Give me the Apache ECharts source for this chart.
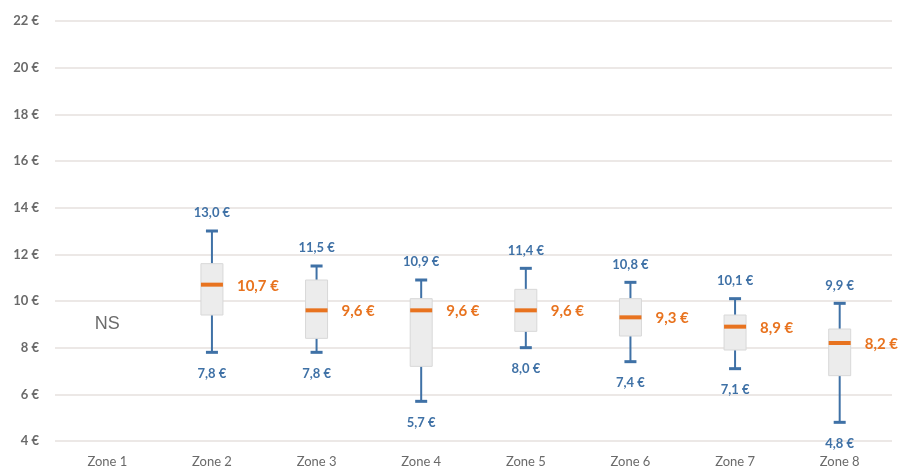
<!DOCTYPE html>
<html><head><meta charset="utf-8">
<script src="https://cdn.jsdelivr.net/npm/echarts@6/dist/echarts.min.js"></script>
<style>html,body{margin:0;padding:0;background:#fff}#c{width:899px;height:468px}</style>
</head><body><div id="c"></div>
<script>
const categories = ['Zone 1','Zone 2','Zone 3','Zone 4','Zone 5','Zone 6','Zone 7','Zone 8'];
const minValues    = [null, 7.8, 7.8, 5.7, 8.0, 7.4, 7.1, 4.8];
const q1Values     = [null, 9.4, 8.4, 7.2, 8.7, 8.5, 7.9, 6.8];
const medianValues = [null, 10.7, 9.6, 9.6, 9.6, 9.3, 8.9, 8.2];
const q3Values     = [null, 11.6, 10.9, 10.1, 10.5, 10.1, 9.4, 8.8];
const maxValues    = [null, 13.0, 11.5, 10.9, 11.4, 10.8, 10.1, 9.9];
const notes        = ['NS', null, null, null, null, null, null, null];
const noteValue = 9.0;
const yTicks = [4, 6, 8, 10, 12, 14, 16, 18, 20, 22];

const fmt = v => v.toFixed(1).replace('.', ',') + ' €';
const BLUE = '#3f71a6', ORANGE = '#e8731f', FONT = 'Lato';

const data = categories.map((c, i) => [i, minValues[i], q1Values[i], medianValues[i], q3Values[i], maxValues[i], notes[i]]);

function renderItem(params, api) {
  const i = api.value(0);
  const note = notes[i];
  if (note) {
    const p = api.coord([i, noteValue]);
    return {type: 'text', style: {text: note, x: p[0], y: p[1], align: 'center', verticalAlign: 'middle',
      font: '18px "Liberation Sans"', fill: '#6b6b6b'}};
  }
  const pMin = api.coord([i, minValues[i]]);
  const pQ1 = api.coord([i, q1Values[i]]);
  const pMed = api.coord([i, medianValues[i]]);
  const pQ3 = api.coord([i, q3Values[i]]);
  const pMax = api.coord([i, maxValues[i]]);
  const x = pMed[0];
  const bw = 22, cw = 12;
  const ls = {stroke: BLUE, lineWidth: 2};
  return {type: 'group', children: [
    {type: 'line', shape: {x1: x, y1: pMax[1], x2: x, y2: pQ3[1]}, style: ls},
    {type: 'line', shape: {x1: x, y1: pQ1[1], x2: x, y2: pMin[1]}, style: ls},
    {type: 'line', shape: {x1: x - cw/2, y1: pMax[1], x2: x + cw/2, y2: pMax[1]}, style: {stroke: BLUE, lineWidth: 3}},
    {type: 'line', shape: {x1: x - cw/2, y1: pMin[1], x2: x + cw/2, y2: pMin[1]}, style: {stroke: BLUE, lineWidth: 3}},
    {type: 'rect', shape: {x: x - bw/2, y: pQ3[1], width: bw, height: pQ1[1] - pQ3[1]},
      style: {fill: '#ececec', stroke: '#d8d8d8', lineWidth: 1}},
    {type: 'line', shape: {x1: x - bw/2, y1: pMed[1], x2: x + bw/2, y2: pMed[1]}, style: {stroke: ORANGE, lineWidth: 4}},
    {type: 'text', style: {text: fmt(maxValues[i]), x: x, y: pMax[1] - 18, align: 'center', verticalAlign: 'middle',
      font: 'bold 13px ' + FONT, fill: BLUE}},
    {type: 'text', style: {text: fmt(minValues[i]), x: x, y: pMin[1] + 21, align: 'center', verticalAlign: 'middle',
      font: 'bold 13px ' + FONT, fill: BLUE}},
    {type: 'text', style: {text: fmt(medianValues[i]), x: x + bw/2 + 14, y: pMed[1] + 1, align: 'left', verticalAlign: 'middle',
      font: 'bold 15px ' + FONT, fill: ORANGE}}
  ]};
}

const chart = echarts.init(document.getElementById('c'), null, {renderer: 'canvas'});
chart.setOption({
  animation: false,
  grid: {left: 55, right: 7, top: 21, bottom: 27},
  xAxis: {type: 'category', data: categories, boundaryGap: true,
    axisLine: {show: false}, axisTick: {show: false},
    axisLabel: {color: '#6a6a6a', fontFamily: FONT, fontSize: 13, margin: 14}},
  yAxis: {type: 'value', min: yTicks[0], max: yTicks[yTicks.length - 1], interval: 2,
    axisLine: {show: false}, axisTick: {show: false},
    axisLabel: {color: '#6a6a6a', fontFamily: FONT, fontSize: 13, fontWeight: 'bold', margin: 16,
      formatter: v => v + ' €'},
    splitLine: {lineStyle: {color: '#e6e1de', width: 1.5}}},
  series: [{type: 'custom', renderItem: renderItem, data: data, encode: {x: 0, y: [1, 5]}, clip: false}]
});
</script></body></html>
